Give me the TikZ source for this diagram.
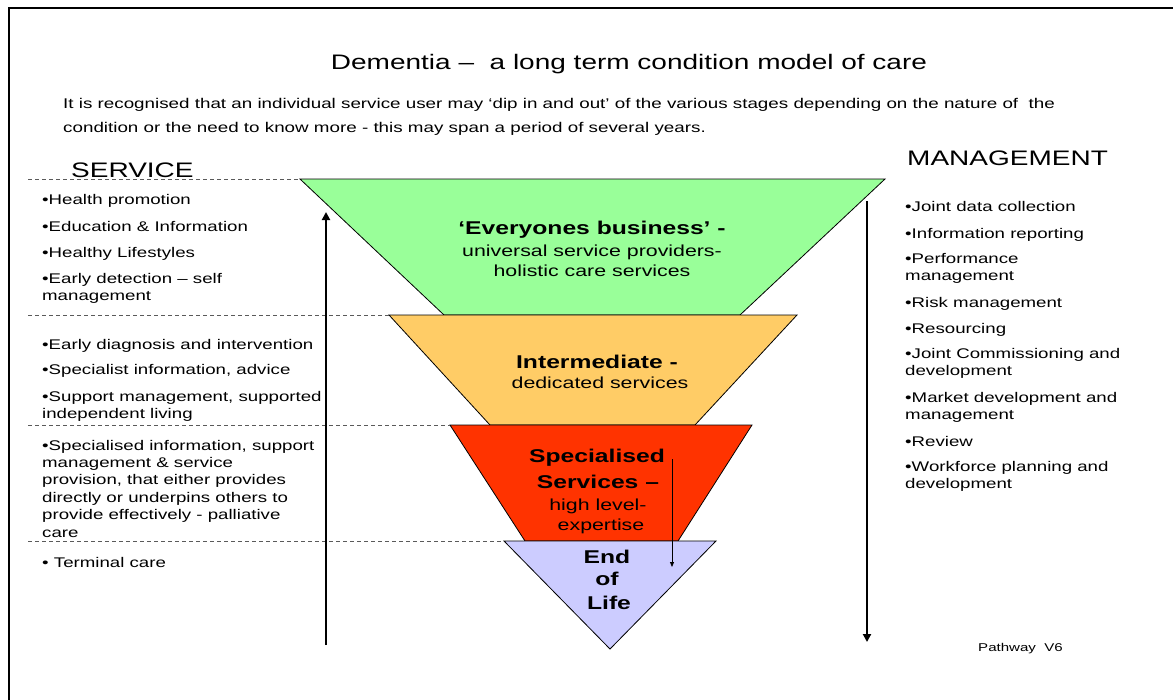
\documentclass[tikz,border=0pt]{standalone}
\usepackage{fontspec}
\setmainfont{Liberation Sans}
\usepackage{graphicx}
\usetikzlibrary{arrows.meta}
\newcommand{\hs}[1]{\scalebox{1.3333}[1]{#1}}
\newcommand{\lines}[1]{\begin{tabular}[t]{@{}l@{}}#1\end{tabular}}
\definecolor{fgreen}{RGB}{153,255,153}
\definecolor{forange}{RGB}{255,204,102}
\definecolor{fred}{RGB}{255,51,0}
\definecolor{fpurple}{RGB}{204,204,255}
\definecolor{dashgray}{RGB}{90,90,90}
\tikzset{
  item/.style={inner sep=0pt, anchor=base west, font=\fontsize{14}{17.4}\selectfont},
  intro/.style={inner sep=0pt, anchor=base west, font=\fontsize{14.1}{17.4}\selectfont},
  head/.style={inner sep=0pt, anchor=base west, font=\fontsize{21}{25}\selectfont},
  boldc/.style={inner sep=0pt, anchor=base, font=\fontsize{18.5}{22}\selectfont\bfseries},
  regc/.style={inner sep=0pt, anchor=base, font=\fontsize{16}{20}\selectfont},
  funnel/.style={draw=black, line width=0.8pt, line join=miter},
  sep/.style={draw=dashgray, line width=1pt, dash pattern=on 4pt off 3pt},
  bigarrow/.style={line width=2pt, -{Triangle[width=8pt,length=8pt]}},
  smallarrow/.style={line width=0.8pt, -{Triangle[width=4pt,length=5pt]}}
}
\begin{document}
\begin{tikzpicture}[x=1pt,y=-1pt]
\useasboundingbox (0,0) rectangle (1173,699);
\clip (0,0) rectangle (1173,699);
\fill[white] (0,0) rectangle (1173,699);
\draw[line width=2pt] (9,720) -- (9,8) -- (1190,8);

% funnel corners
\coordinate (gTL) at (300,179); \coordinate (gTR) at (885,179);
\coordinate (gBR) at (740,315); \coordinate (gBL) at (444,315);
\coordinate (oTL) at (389,315); \coordinate (oTR) at (797,315);
\coordinate (oBR) at (695,425); \coordinate (oBL) at (490,425);
\coordinate (rTL) at (450,425); \coordinate (rTR) at (752,425);
\coordinate (rBR) at (678,541); \coordinate (rBL) at (525,541);
\coordinate (pTL) at (504,541); \coordinate (pTR) at (716,541);
\coordinate (pB) at (610,649);

\filldraw[funnel, fill=fgreen] (gTL) -- (gTR) -- (gBR) -- (gBL) -- cycle;
\filldraw[funnel, fill=forange] (oTL) -- (oTR) -- (oBR) -- (oBL) -- cycle;
\filldraw[funnel, fill=fred] (rTL) -- (rTR) -- (rBR) -- (rBL) -- cycle;
\filldraw[funnel, fill=fpurple] (pTL) -- (pTR) -- (pB) -- cycle;

% dashed separators
\coordinate (s1) at (28,179); \coordinate (s2) at (28,315);
\coordinate (s3) at (28,425); \coordinate (s4) at (28,541);
\draw[sep] (s1) -- (gTL);
\draw[sep] (s2) -- (oTL);
\draw[sep] (s3) -- (rTL);
\draw[sep] (s4) -- (pTL);

% arrows
\coordinate (la0) at (326,645); \coordinate (la1) at (326,212);
\coordinate (ra0) at (867,201); \coordinate (ra1) at (867,642);
\coordinate (sa0) at (672,459); \coordinate (sa1) at (672,567);
\draw[bigarrow] (la0) -- (la1);
\draw[bigarrow] (ra0) -- (ra1);
\draw[smallarrow] (sa0) -- (sa1);

% title and intro
\node[inner sep=0pt, anchor=base, font=\fontsize{21}{25}\selectfont] (title) at (629,69)
  {\hs{Dementia –~ a long term condition model of care}};
\node[intro] (intro1) at (63,108) {\hs{It is recognised that an individual service user may ‘dip in and out’ of the various stages depending on the nature of~ the}};
\node[intro] (intro2) at (63,132) {\hs{condition or the need to know more - this may span a period of several years.}};

\node[head] (service) at (71,177) {\hs{SERVICE}};
\node[head] (management) at (907,165) {\hs{MANAGEMENT}};

% service items
\node[item] (l1) at (42,204) {\hs{•Health promotion}};
\node[item] (l2) at (42,231) {\hs{•Education \& Information}};
\node[item] (l3) at (42,257) {\hs{•Healthy Lifestyles}};
\node[item] (l4) at (42,283) {\hs{\lines{•Early detection – self\\management}}};
\node[item] (l5) at (42,349) {\hs{•Early diagnosis and intervention}};
\node[item] (l6) at (42,374) {\hs{•Specialist information, advice}};
\node[item] (l7) at (42,401) {\hs{\lines{•Support management, supported\\independent living}}};
\node[item] (l8) at (42,450) {\hs{\lines{•Specialised information, support\\management \& service\\provision, that either provides\\directly or underpins others to\\provide effectively - palliative\\care}}};
\node[item] (l9) at (42,567) {\hs{• Terminal care}};

% management items
\node[item] (m1) at (905,211) {\hs{•Joint data collection}};
\node[item] (m2) at (905,238) {\hs{•Information reporting}};
\node[item] (m3) at (905,263) {\hs{\lines{•Performance\\management}}};
\node[item] (m4) at (905,307) {\hs{•Risk management}};
\node[item] (m5) at (905,333) {\hs{•Resourcing}};
\node[item] (m6) at (905,358) {\hs{\lines{•Joint Commissioning and\\development}}};
\node[item] (m7) at (905,402) {\hs{\lines{•Market development and\\management}}};
\node[item] (m8) at (905,446) {\hs{•Review}};
\node[item] (m9) at (905,471) {\hs{\lines{•Workforce planning and\\development}}};

% funnel labels
\node[boldc] (g1) at (592,234) {\hs{‘Everyones business’ -}};
\node[regc] (g2) at (592,256) {\hs{universal service providers-}};
\node[regc] (g3) at (592,276) {\hs{holistic care services}};
\node[boldc] (o1) at (597,368) {\hs{Intermediate -}};
\node[regc] (o2) at (600,388) {\hs{dedicated services}};
\node[boldc] (r1) at (597,462) {\hs{Specialised}};
\node[boldc] (r2) at (598,488) {\hs{Services –}};
\node[regc] (r3) at (598,510) {\hs{high level-}};
\node[regc] (r4) at (601,530) {\hs{expertise}};
\node[boldc] (p1) at (607,563) {\hs{End}};
\node[boldc] (p2) at (607,585) {\hs{of}};
\node[boldc] (p3) at (609,609) {\hs{Life}};

\node[inner sep=0pt, anchor=base west, font=\fontsize{11.3}{13}\selectfont] (version) at (978,651) {\hs{Pathway~ V6}};
\end{tikzpicture}
\end{document}
